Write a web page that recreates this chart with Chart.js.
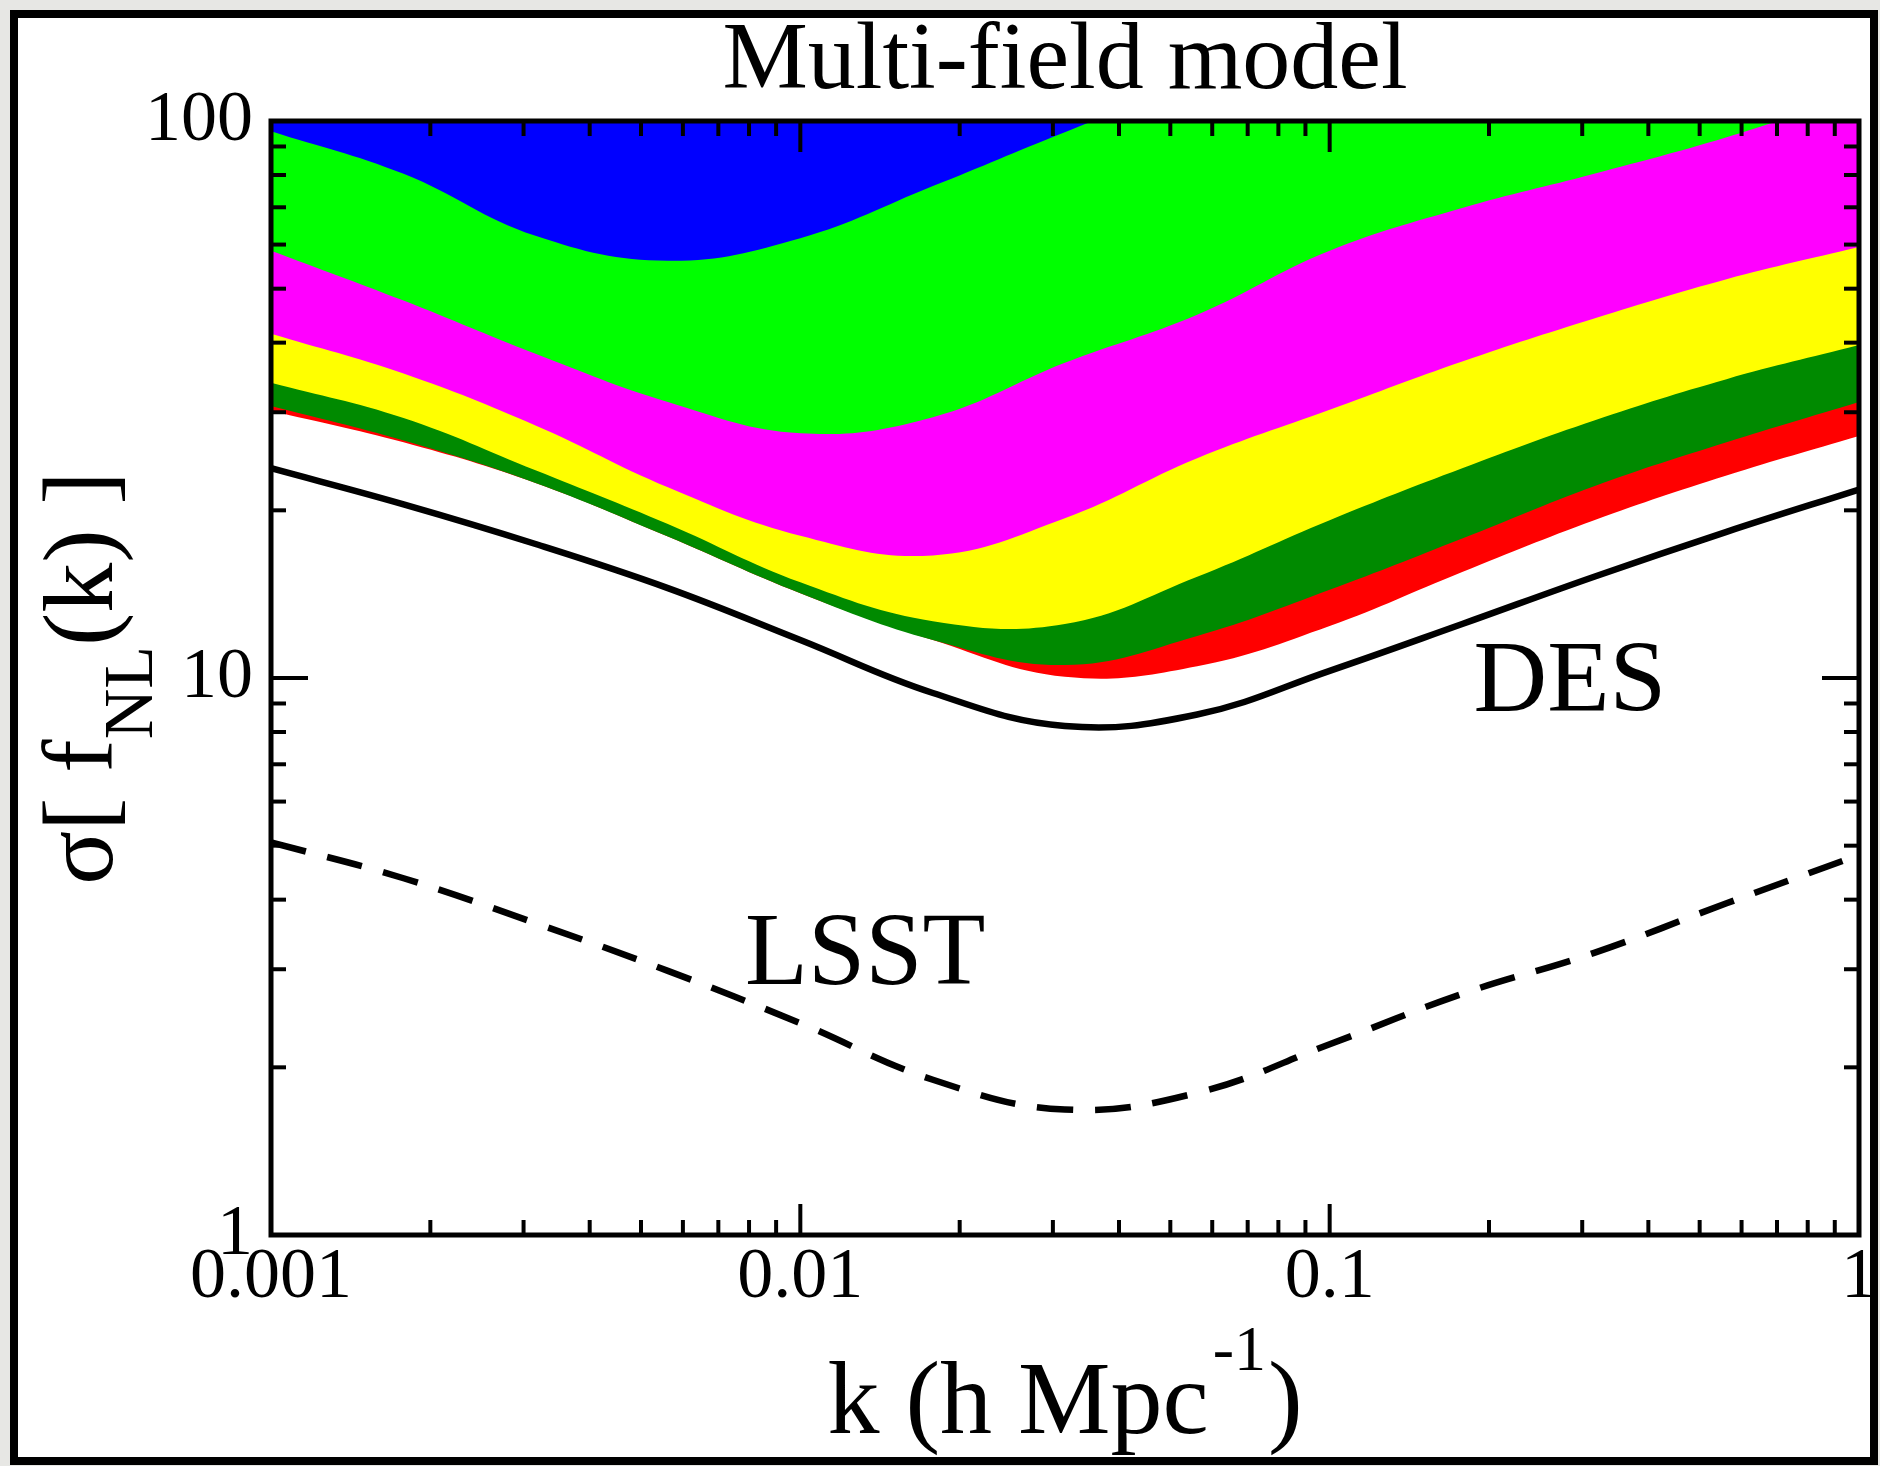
<!DOCTYPE html>
<html>
<head>
<meta charset="utf-8">
<title>Multi-field model</title>
<script src="https://cdn.jsdelivr.net/npm/chart.js@4.4.1/dist/chart.umd.min.js"></script>
<style>
  html, body { margin: 0; padding: 0; }
  body { width: 1880px; height: 1466px; background: #e7e7e4; position: relative; overflow: hidden; }
  #frame { position: absolute; left: 10px; top: 10px; width: 1852px; height: 1439px; border: 8px solid #000; background: #fff; }
  #chart { position: absolute; left: 0; top: 0; }
</style>
</head>
<body>
<div id="frame"></div>
<canvas id="chart" width="1880" height="1466"></canvas>
<script>
// k in h/Mpc
const kValues = [0.001, 0.00178, 0.00316, 0.00562, 0.01, 0.0178, 0.0316, 0.0562, 0.1, 0.178, 0.316, 0.562, 1];

// lower edge of each coloured band (every band is filled up to the top of the plot)
const blueEdge = [95.9, 80.4, 62.2, 56.1, 61.6, 76.4, 95.5, 118];
const greenEdge = [58.5, 47.6, 38.2, 31.3, 27.5, 29.4, 36.8, 44.9, 58.5, 69.8, 80.4, 93.5, 112];
const magentaEdge = [41.5, 35.2, 28.4, 22.0, 18.0, 16.6, 19.35, 24.8, 30.3, 37.0, 44.2, 52.0, 59.4];
const yellowEdge = [33.9, 29.3, 23.6, 18.9, 14.85, 12.65, 12.5, 15.2, 19.2, 23.8, 29.0, 34.4, 39.6];
const darkGreenEdge = [30.8, 26.7, 22.4, 17.95, 14.2, 11.7, 10.55, 11.9, 14.4, 17.8, 22.1, 26.5, 31.3];
const redEdge = [30.2, 26.5, 22.4, 17.95, 14.2, 11.7, 10.05, 10.5, 12.4, 15.5, 19.2, 23.1, 27.2];

// survey forecasts
const desValues = [23.8, 20.5, 17.4, 14.5, 11.7, 9.4, 8.2, 8.6, 10.3, 12.5, 15.2, 18.3, 21.8];
const lsstValues = [5.07, 4.37, 3.63, 2.98, 2.40, 1.90, 1.68, 1.80, 2.20, 2.71, 3.21, 3.94, 4.81];

const xTickValues = [0.001, 0.01, 0.1, 1];
const xTickLabels = ['0.001', '0.01', '0.1', '1'];
const yTickValues = [1, 10, 100];
const yTickLabels = ['1', '10', '100'];

const serif = "'Liberation Serif', 'Times New Roman', serif";

function pts(ys) {
  return ys.map((y, i) => ({ x: kValues[i], y: y }));
}

function band(label, ys, color) {
  return {
    label: label,
    data: pts(ys),
    borderWidth: 0,
    borderColor: color,
    backgroundColor: color,
    fill: 'end',
    clip: 0
  };
}

// axis box, inward ticks and all the text around the plot
const framePlugin = {
  id: 'frame',
  afterDatasetsDraw(chart) {
    const { ctx, chartArea: a, scales: { x, y } } = chart;
    ctx.save();
    ctx.strokeStyle = '#000';
    ctx.lineWidth = 4;
    const seg = (x1, y1, x2, y2) => {
      ctx.beginPath(); ctx.moveTo(x1, y1); ctx.lineTo(x2, y2); ctx.stroke();
    };
    for (let e = -3; e < 0; e++) {
      for (let d = 1; d < 10; d++) {
        if (d === 1 && e === -3) continue;
        const px = x.getPixelForValue(d * Math.pow(10, e));
        const len = d === 1 ? 31 : 15;
        seg(px, a.bottom, px, a.bottom - len);
        seg(px, a.top, px, a.top + len);
      }
    }
    for (let e = 0; e < 2; e++) {
      for (let d = 1; d < 10; d++) {
        if (d === 1 && e === 0) continue;
        const py = y.getPixelForValue(d * Math.pow(10, e));
        const len = d === 1 ? 37 : 15;
        seg(a.left, py, a.left + len, py);
        seg(a.right, py, a.right - len, py);
      }
    }
    ctx.lineWidth = 5;
    ctx.strokeRect(a.left, a.top, a.right - a.left, a.bottom - a.top);
    ctx.restore();
  },
  afterDraw(chart) {
    const { ctx, chartArea: a, scales: { x, y } } = chart;
    const cx = (a.left + a.right) / 2;
    const cy = (a.top + a.bottom) / 2;
    ctx.save();
    ctx.fillStyle = '#000';
    ctx.textBaseline = 'alphabetic';

    // title
    ctx.textAlign = 'center';
    ctx.font = '96px ' + serif;
    ctx.fillText('Multi-field model', cx, 88);

    // x axis title with superscript
    ctx.textAlign = 'left';
    ctx.font = '104px ' + serif;
    const t1 = 'k (h Mpc', t3 = ')';
    const w1 = ctx.measureText(t1).width;
    const w3 = ctx.measureText(t3).width;
    ctx.font = '64px ' + serif;
    const w2 = ctx.measureText('-1').width + 6;
    const sx = cx - (w1 + w2 + w3) / 2;
    ctx.font = '104px ' + serif;
    ctx.fillText(t1, sx, 1433);
    ctx.font = '64px ' + serif;
    ctx.fillText('-1', sx + w1 + 4, 1370);
    ctx.font = '104px ' + serif;
    ctx.fillText(t3, sx + w1 + w2, 1433);

    // y axis title with subscript, rotated
    ctx.font = '100px ' + serif;
    const y1 = 'σ[ f', y3 = '(k) ]';
    const v1 = ctx.measureText(y1).width;
    const v3 = ctx.measureText(y3).width;
    ctx.font = '70px ' + serif;
    const v2 = ctx.measureText('NL').width;
    const total = v1 + v2 + v3;
    ctx.translate(112, cy + total / 2);
    ctx.rotate(-Math.PI / 2);
    ctx.font = '100px ' + serif;
    ctx.fillText(y1, 0, 0);
    ctx.font = '70px ' + serif;
    ctx.fillText('NL', v1, 40);
    ctx.font = '100px ' + serif;
    ctx.fillText(y3, v1 + v2, 0);
    ctx.setTransform(1, 0, 0, 1, 0, 0);

    // curve labels
    ctx.font = '102px ' + serif;
    ctx.fillText('DES', x.getPixelForValue(0.187), y.getPixelForValue(8.73));
    ctx.font = '103px ' + serif;
    ctx.fillText('LSST', x.getPixelForValue(0.00786), y.getPixelForValue(2.82));
    ctx.restore();
  }
};

new Chart(document.getElementById('chart'), {
  type: 'line',
  data: {
    datasets: [
      { label: 'DES', data: pts(desValues), borderColor: '#000', borderWidth: 6.5, fill: false },
      { label: 'LSST', data: pts(lsstValues), borderColor: '#000', borderWidth: 6.5, borderDash: [36, 22], fill: false },
      band('blue', blueEdge, '#0000ff'),
      band('green', greenEdge, '#00ff00'),
      band('magenta', magentaEdge, '#ff00ff'),
      band('yellow', yellowEdge, '#ffff00'),
      band('dark green', darkGreenEdge, '#008a00'),
      band('red', redEdge, '#ff0000')
    ]
  },
  options: {
    responsive: false,
    animation: false,
    devicePixelRatio: 1,
    layout: { padding: { top: 121, right: 21, bottom: 0, left: 0 } },
    elements: { point: { radius: 0 }, line: { tension: 0.4 } },
    plugins: { legend: { display: false }, tooltip: { enabled: false } },
    scales: {
      x: {
        type: 'logarithmic',
        min: 0.001,
        max: 1,
        grid: { display: false, drawTicks: false },
        border: { display: false },
        afterBuildTicks: (s) => { s.ticks = xTickValues.map(v => ({ value: v })); },
        afterFit: (s) => { s.height = 231; },
        ticks: {
          autoSkip: false, maxRotation: 0, minRotation: 0, padding: 0,
          color: '#000',
          font: { family: serif, size: 72 },
          callback: (v, i) => xTickLabels[i]
        }
      },
      y: {
        type: 'logarithmic',
        min: 1,
        max: 100,
        grid: { display: false, drawTicks: false },
        border: { display: false },
        afterBuildTicks: (s) => { s.ticks = yTickValues.map(v => ({ value: v })); },
        afterFit: (s) => { s.width = 271; },
        ticks: {
          autoSkip: false, padding: 18,
          color: '#000',
          font: { family: serif, size: 72 },
          callback: (v, i) => yTickLabels[i]
        }
      }
    }
  },
  plugins: [framePlugin]
});
</script>
</body>
</html>
